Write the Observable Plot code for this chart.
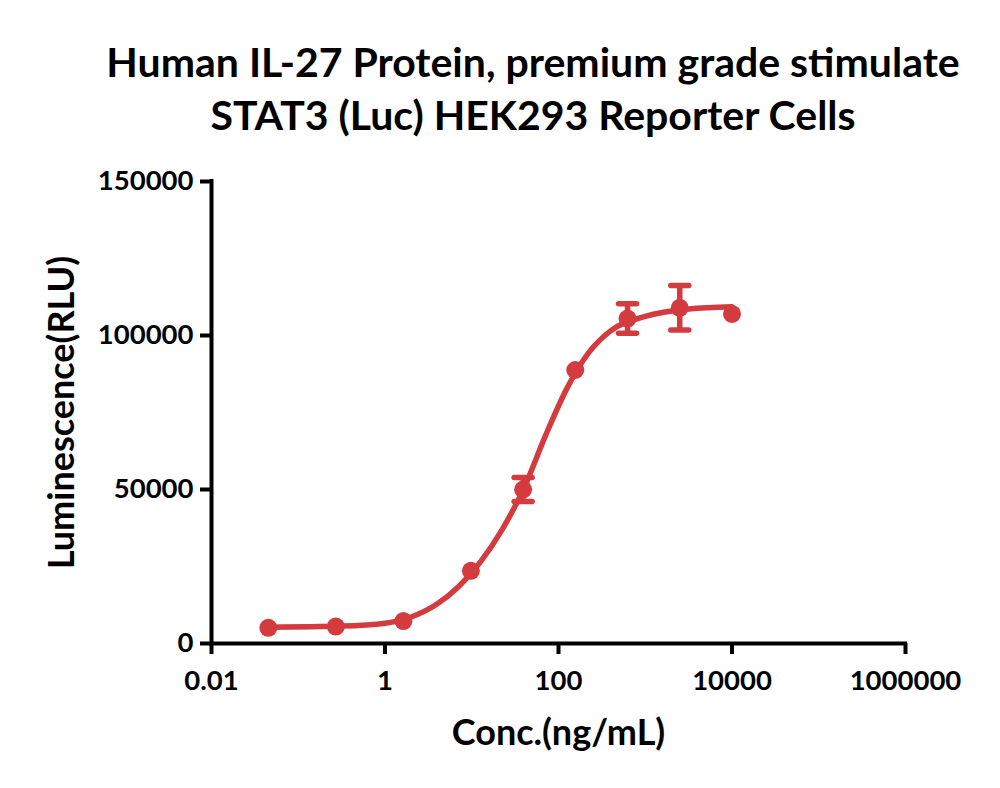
<!DOCTYPE html>
<html>
<head>
<meta charset="utf-8">
<script src="https://cdn.jsdelivr.net/npm/d3@7"></script>
<script src="https://cdn.jsdelivr.net/npm/@observablehq/plot@0.6"></script>
<style>
  html, body { margin: 0; padding: 0; background: #fff; }
  #title {
    width: 1000px; height: 150px; box-sizing: border-box;
    padding-top: 35px; padding-left: 66px;
    font-family: Lato, "Open Sans", sans-serif; font-weight: bold;
    font-size: 41px; line-height: 53px; text-align: center; color: #000;
    white-space: nowrap;
  }
  #chart svg { display: block; }
</style>
</head>
<body>
<div id="title">Human IL-27 Protein, premium grade stimulate<br>STAT3 (Luc) HEK293 Reporter Cells</div>
<div id="chart"></div>
<script>
// measured points (ng/mL, RLU)
const conc = [0.0452, 0.271, 1.63, 9.77, 39.1, 156, 625, 2500, 10000];
const meanRLU = [5100, 5500, 7300, 23600, 50000, 88800, 105500, 109000, 107000];
const sdRLU = [0, 0, 0, 0, 3900, 0, 4800, 7200, 0];

// fitted curve
const fitConc = [0.0452, 0.316, 1, 2, 3.98, 7.08, 12.6, 22.4, 39.8, 70.8, 126, 224, 398, 1000, 3162, 10000];
const fitRLU = [5300, 5650, 6600, 8600, 12800, 18500, 26500, 37000, 50300, 67500, 83000, 94500, 101500, 106200, 108600, 109300];

const xTicks = [0.01, 1, 100, 10000, 1000000];
const xTickLabels = ["0.01", "1", "100", "10000", "1000000"];
const yTicks = [0, 50000, 100000, 150000];
const yTickLabels = ["0", "50000", "100000", "150000"];

const xLabel = "Conc.(ng/mL)";
const yLabel = "Luminescence(RLU)";

const red = "#d33b3f";

const points = conc.map((c, i) => ({x: c, y: meanRLU[i], sd: sdRLU[i]}));
const bars = points.filter(d => d.sd > 0);
const fit = fitConc.map((c, i) => ({x: c, y: fitRLU[i]}));

const capSymbol = {
  draw(context, size) {
    const w = Math.sqrt(size / Math.PI);
    context.moveTo(-w, 0);
    context.lineTo(w, 0);
  }
};

const chart = Plot.plot({
  width: 1000,
  height: 638,
  marginLeft: 211,
  marginRight: 95,
  marginTop: 31,
  marginBottom: 145,
  style: {fontFamily: "Lato, 'Open Sans', sans-serif", fontWeight: "bold", color: "#000", background: "#fff"},
  x: {type: "log", domain: [0.01, 1000000]},
  y: {domain: [0, 150000]},
  marks: [
    Plot.axisX({ticks: xTicks, tickFormat: (d) => xTickLabels[xTicks.indexOf(d)], tickSize: 11, tickPadding: 16, strokeWidth: 4, fontSize: 27.5, label: null}),
    Plot.axisY({ticks: yTicks, tickFormat: (d) => yTickLabels[yTicks.indexOf(d)], tickSize: 11, tickPadding: 7, strokeWidth: 4, fontSize: 27.5, label: null}),
    Plot.ruleX([0.01], {strokeWidth: 4, strokeLinecap: "square"}),
    Plot.ruleY([0], {strokeWidth: 4, strokeLinecap: "square"}),
    Plot.line(fit, {x: "x", y: "y", stroke: red, strokeWidth: 5.5, curve: "monotone-x"}),
    Plot.ruleX(bars, {x: "x", y1: d => d.y - d.sd, y2: d => d.y + d.sd, stroke: red, strokeWidth: 5.5}),
    Plot.dot(bars, {x: "x", y: d => d.y + d.sd, symbol: capSymbol, r: 9, stroke: red, strokeWidth: 5.5, strokeLinecap: "round", fill: "none"}),
    Plot.dot(bars, {x: "x", y: d => d.y - d.sd, symbol: capSymbol, r: 9, stroke: red, strokeWidth: 5.5, strokeLinecap: "round", fill: "none"}),
    Plot.dot(points, {x: "x", y: "y", r: 9, fill: red, stroke: "none"}),
    Plot.text([xLabel], {frameAnchor: "bottom", dy: 101, fontSize: 36, fontWeight: "bold", fill: "#000"}),
    Plot.text([yLabel], {frameAnchor: "left", textAnchor: "middle", dx: -149, rotate: -90, fontSize: 36, fontWeight: "bold", fill: "#000"})
  ]
});
document.getElementById("chart").appendChild(chart);
</script>
</body>
</html>
